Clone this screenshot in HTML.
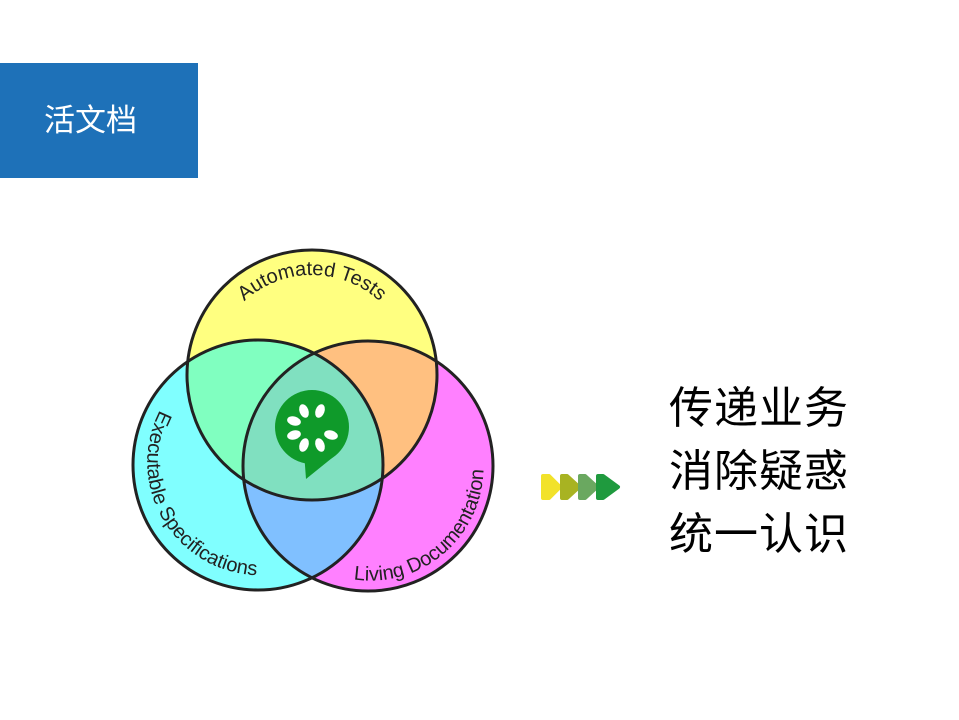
<!DOCTYPE html>
<html><head><meta charset="utf-8"><style>
html,body{margin:0;padding:0;background:#fff;width:959px;height:720px;overflow:hidden;position:relative}
.title{position:absolute;left:0;top:63px;width:198px;height:115px;background:#1e71b8;color:#fff;font:31px "Liberation Sans","Noto Sans CJK SC",sans-serif;line-height:115px;text-indent:44px}
.rt{position:absolute;left:669px;top:377px;font:44px "Liberation Sans","Noto Sans CJK SC",sans-serif;line-height:63px;color:#000;letter-spacing:1px}
svg{position:absolute;left:0;top:0}
</style></head><body>
<div class="title">活文档</div>
<svg width="959" height="720" viewBox="0 0 959 720">
<defs>
<clipPath id="cT"><circle cx="312" cy="375" r="125"/></clipPath>
<clipPath id="cL"><circle cx="258" cy="465" r="125"/></clipPath>
<clipPath id="cR"><circle cx="368" cy="466" r="125"/></clipPath>
<path id="pT" d="M 212 375 A 100 100 0 0 1 412 375"/>
<path id="pL2" d="M 160 410 A 113 113 0 0 0 344 538"/>
<path id="pR2" d="M 300 556 A 113 113 0 0 0 480 440"/>
</defs>
<circle cx="312" cy="375" r="125" fill="#ffff80"/>
<circle cx="258" cy="465" r="125" fill="#80ffff"/>
<circle cx="368" cy="466" r="125" fill="#ff80ff"/>
<g clip-path="url(#cT)"><circle cx="258" cy="465" r="125" fill="#80ffc0"/><circle cx="368" cy="466" r="125" fill="#ffc080"/></g>
<g clip-path="url(#cL)"><circle cx="368" cy="466" r="125" fill="#80c0ff"/></g>
<g clip-path="url(#cL)"><g clip-path="url(#cR)"><circle cx="312" cy="375" r="125" fill="#80e0c0"/></g></g>
<g fill="none" stroke="#222" stroke-width="3">
<circle cx="312" cy="375" r="125"/><circle cx="258" cy="465" r="125"/><circle cx="368" cy="466" r="125"/>
</g>
<g font-family="Liberation Sans, sans-serif" font-size="20" fill="#222">
<text><textPath href="#pT" startOffset="50%" text-anchor="middle">Automated Tests</textPath></text>
<text><textPath href="#pL2" startOffset="0%">Executable Specifications</textPath></text>
<text><textPath href="#pR2" startOffset="21%">Living Documentation</textPath></text>
</g>
<g>
<path d="M 304 452 L 306 479 L 332 458 Z" fill="#0f9a2a"/>
<circle cx="312" cy="427" r="37" fill="#0f9a2a"/>
<g fill="#fff">
<ellipse cx="304" cy="411" rx="4.5" ry="7" transform="rotate(-20 304 411)"/>
<ellipse cx="320" cy="411" rx="4.5" ry="7" transform="rotate(20 320 411)"/>
<ellipse cx="294" cy="421" rx="7" ry="4.5" transform="rotate(15 294 421)"/>
<ellipse cx="294" cy="435" rx="7" ry="4.5" transform="rotate(-15 294 435)"/>
<ellipse cx="331" cy="435" rx="7" ry="4.5" transform="rotate(15 331 435)"/>
<ellipse cx="304" cy="445" rx="4.5" ry="7" transform="rotate(20 304 445)"/>
<ellipse cx="320" cy="445" rx="4.5" ry="7" transform="rotate(-20 320 445)"/>
</g>
</g>
<g stroke-linejoin="round" stroke-width="4">
<path d="M543 476 h6 l11 11 l-11 11 h-6 z" fill="#f2e22a" stroke="#f2e22a"/>
<path d="M562 476 h5 l12 11 l-12 11 h-5 z" fill="#a8b322" stroke="#a8b322"/>
<path d="M580 476 h5 l12 11 l-12 11 h-5 z" fill="#6aa860" stroke="#6aa860"/>
<path d="M598 476 h5 l15 11 l-15 11 h-5 z" fill="#1f9a3e" stroke="#1f9a3e"/>
</g>
</svg>
<div class="rt">传递业务<br>消除疑惑<br>统一认识</div>
</body></html>
